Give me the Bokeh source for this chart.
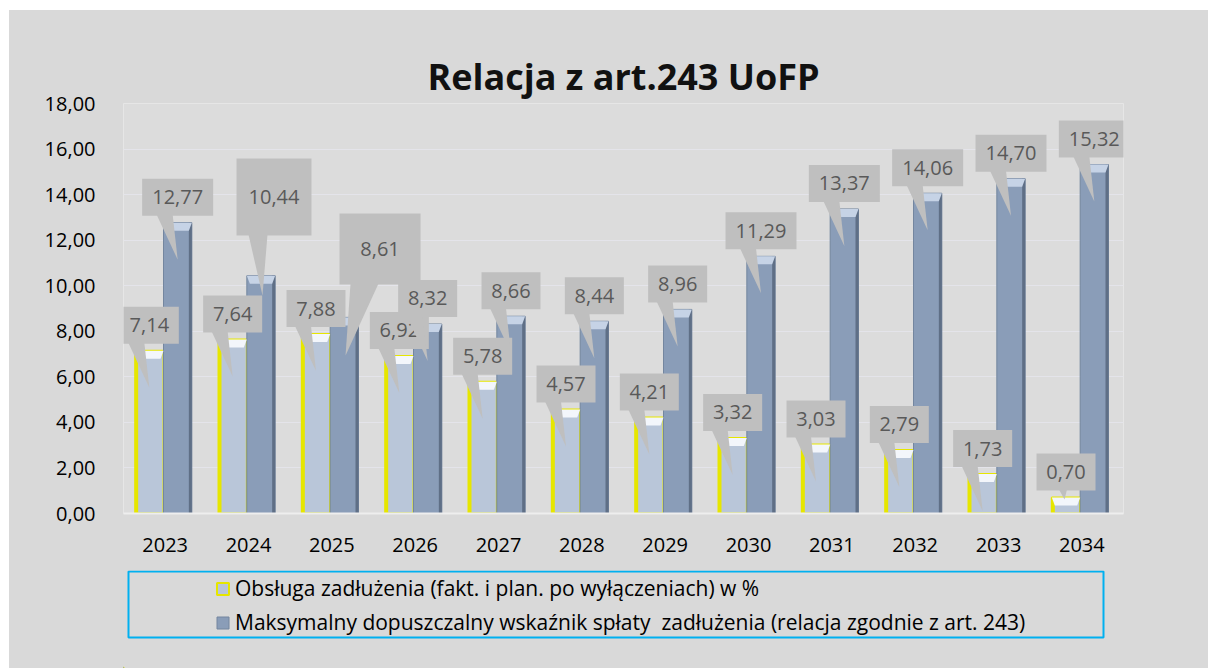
from bokeh.plotting import figure
from bokeh.models import FixedTicker, Legend, LegendItem, ColumnDataSource
from bokeh.layouts import column
from bokeh.embed import file_html
from bokeh.resources import INLINE
from bokeh.core.properties import value

# ---------------- data ----------------
years = ["2023", "2024", "2025", "2026", "2027", "2028",
         "2029", "2030", "2031", "2032", "2033", "2034"]
debt_service = [7.14, 7.64, 7.88, 6.92, 5.78, 4.57, 4.21, 3.32, 3.03, 2.79, 1.73, 0.70]
max_ratio = [12.77, 10.44, 8.61, 8.32, 8.66, 8.44, 8.96, 11.29, 13.37, 14.06, 14.70, 15.32]
y_ticks = [0, 2, 4, 6, 8, 10, 12, 14, 16, 18]
y_tick_labels = ["0,00", "2,00", "4,00", "6,00", "8,00", "10,00", "12,00", "14,00", "16,00", "18,00"]
series_names = ["Obsługa zadłużenia (fakt. i plan. po wyłączeniach) w %",
                "Maksymalny dopuszczalny wskaźnik spłaty  zadłużenia (relacja zgodnie z art. 243)"]
title_text = "Relacja z art.243 UoFP"

# ---------------- layout / style ----------------
FONT = "Open Sans"
W = 1199
H1, H2 = 560, 98
FW, FH = 1000, 410
Y_MAX = 18
n = len(years)
PPX = FW / n          # px per category
PPY = FH / Y_MAX      # px per y unit
BAR_W = 0.34
OFF1, OFF2 = -0.19, 0.15
BL, BR = 114, 85      # side borders shared by both panels

BG = "#d9d9d9"
PLOT_BG = "#dcdcdc"
LIGHT = "#b9c6d9"
DARK = "#8a9db8"
YELLOW = "#e6e600"
BOX = "#bfbfbf"
BOX_TXT = "#595959"

x1 = [i + 0.5 + OFF1 for i in range(n)]
x2 = [i + 0.5 + OFF2 for i in range(n)]

p = figure(width=W, height=H1, x_range=(0, n), y_range=(0, Y_MAX),
           output_backend="svg", toolbar_location=None,
           min_border_left=BL, min_border_right=BR, min_border_top=93, min_border_bottom=57,
           background_fill_color=PLOT_BG, border_fill_color=BG)
p.outline_line_color = "#e6e6e6"

p.title.text = title_text
p.title.align = "center"
p.title.offset = 10
p.title.standoff = 6
p.title.text_font = FONT
p.title.text_font_size = "36px"
p.title.text_font_style = "bold"
p.title.text_color = "#111111"

# axes
p.yaxis.ticker = FixedTicker(ticks=y_ticks)
p.yaxis.major_label_overrides = {t: l for t, l in zip(y_ticks, y_tick_labels)}
p.xaxis.ticker = FixedTicker(ticks=[i + 0.5 for i in range(n)])
p.xaxis.major_label_overrides = {i + 0.5: y for i, y in enumerate(years)}
for ax in (p.xaxis[0], p.yaxis[0]):
    ax.major_tick_line_color = None
    ax.minor_tick_line_color = None
    ax.major_label_text_font = FONT
    ax.major_label_text_font_size = "20px"
    ax.major_label_text_color = "#000000"
p.yaxis.axis_line_color = None
p.yaxis.major_label_standoff = 22
p.xaxis.axis_line_color = "#eeeeee"
p.xaxis.axis_line_width = 2
p.xaxis.major_label_standoff = 18
p.xgrid.grid_line_color = None
p.ygrid.grid_line_color = "#e4e4ea"

# ---------------- bars ----------------
src = ColumnDataSource(dict(x1=x1, x2=x2, v1=debt_service, v2=max_ratio))
BAR1 = dict(fill_color=LIGHT, line_color=YELLOW, line_width=2)
BAR2 = dict(fill_color=DARK, line_color="#74869f", line_width=1)
p.vbar(x="x1", top="v1", width=BAR_W, bottom=0, source=src, **BAR1)
p.vbar(x="x2", top="v2", width=BAR_W, bottom=0, source=src, **BAR2)

edge = 3 / PPX
p.vbar(x=[x + BAR_W / 2 - edge / 2 for x in x2], top=max_ratio, bottom=0, width=edge,
       fill_color="#5f6f86", line_color=None)
p.vbar(x=[x - BAR_W / 2 + edge / 2 for x in x1], top=debt_service, bottom=0, width=edge,
       fill_color=YELLOW, line_color=None)


def bevel(xs, vals):
    bxs, bys = [], []
    hw = BAR_W / 2
    d = 8 / PPY
    s = 3 / PPX
    for x, v in zip(xs, vals):
        bxs.append([x - hw, x + hw, x + hw - s, x - hw + s])
        bys.append([v, v, v - d, v - d])
    return bxs, bys


bx, by = bevel(x1, debt_service)
p.patches(bx, by, fill_color="#f3f6fb", line_color=None)
bx, by = bevel(x2, max_ratio)
p.patches(bx, by, fill_color="#c6d3e6", line_color=None)

# ---------------- callouts ----------------
def fmt(v):
    return f"{v:.2f}".replace(".", ",")


DEFAULT = dict(dx=0.0, dy=-25.5, w=None, h=37, base=(-21, -5), tip=(0, 44))
over1 = {11: dict(base=(-7, 1), tip=(-1.5, 9))}
over2 = {1: dict(dx=13, dy=-78.7, w=75, h=77, base=(-25.5, -6.5), tip=(-11.5, 60)),
         2: dict(dx=35.7, dy=-68.4, w=81, h=71, base=(-29.5, -1.5), tip=(-34.5, 71))}


def callouts(xs, vals, over):
    cx, cy, ws, hs, txt, pxs, pys = [], [], [], [], [], [], []
    for i, (x, v) in enumerate(zip(xs, vals)):
        g = dict(DEFAULT)
        g.update(over.get(i, {}))
        t = fmt(v)
        w = g["w"] if g["w"] else (59 if len(t) <= 4 else 71)
        h = g["h"]
        cxd = x + g["dx"] / PPX
        cyd = v - g["dy"] / PPY
        bot = cyd - (h / 2) / PPY
        top_b = bot + 1 / PPY
        pxs.append([cxd + g["base"][0] / PPX, cxd + g["base"][1] / PPX, cxd + g["tip"][0] / PPX])
        pys.append([top_b, top_b, bot - g["tip"][1] / PPY])
        cx.append(cxd); cy.append(cyd); ws.append(w); hs.append(h); txt.append(t)
    return cx, cy, ws, hs, txt, pxs, pys


for xs, vals, over in ((x1, debt_service, over1), (x2, max_ratio, over2)):
    cx, cy, ws, hs, txt, pxs, pys = callouts(xs, vals, over)
    p.patches(pxs, pys, fill_color=BOX, line_color=None)
    p.rect(x=cx, y=cy, width=ws, height=hs, width_units="screen", height_units="screen",
           fill_color=BOX, line_color=None)
    p.text(x=cx, y=cy, text=txt, text_align="center", text_baseline="middle",
           text_font=value(FONT), text_font_size="20px", text_color=BOX_TXT)

# ---------------- legend panel ----------------
q = figure(width=W, height=H2, x_range=(0, FW), y_range=(0, H2),
           output_backend="svg", toolbar_location=None,
           x_axis_type=None, y_axis_type=None,
           min_border_left=BL, min_border_right=BR, min_border_top=0, min_border_bottom=0,
           background_fill_color=BG, background_fill_alpha=0, border_fill_color=BG)
q.outline_line_color = None
q.grid.visible = False
q.quad(left=[5], right=[980], top=[H2 - 1], bottom=[H2 - 67],
       fill_alpha=0, line_color="#00b0f0", line_width=2)
l1 = q.vbar(x=[-50], top=[1], width=1, **BAR1)
l2 = q.vbar(x=[-50], top=[1], width=1, **BAR2)
legend = Legend(items=[LegendItem(label=series_names[0], renderers=[l1]),
                       LegendItem(label=series_names[1], renderers=[l2])],
                location=(92, 32), padding=0, margin=0, spacing=6,
                glyph_width=15, glyph_height=15, label_height=28, label_standoff=5,
                label_text_font=FONT, label_text_font_size="21px", label_text_color="#000000",
                border_line_color=None, background_fill_alpha=0)
q.add_layout(legend, "center")

layout = column(p, q, spacing=0, margin=(10, 0, 0, 9),
                styles={"background-color": BG})
open("out.html", "w").write(file_html(layout, INLINE))
